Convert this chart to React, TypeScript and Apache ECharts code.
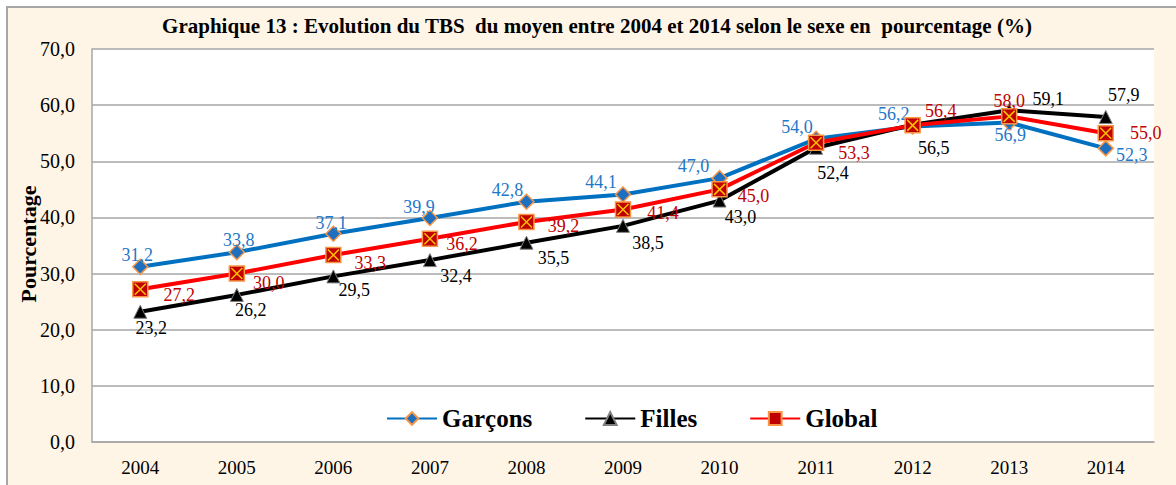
import React, { useEffect, useRef } from "react";
import * as echarts from "echarts";

const years = ["2004", "2005", "2006", "2007", "2008", "2009", "2010", "2011", "2012", "2013", "2014"];
const garcons = [31.2, 33.8, 37.1, 39.9, 42.8, 44.1, 47.0, 54.0, 56.2, 56.9, 52.3];
const filles = [23.2, 26.2, 29.5, 32.4, 35.5, 38.5, 43.0, 52.4, 56.5, 59.1, 57.9];
const global = [27.2, 30.0, 33.3, 36.2, 39.2, 41.4, 45.0, 53.3, 56.4, 58.0, 55.0];

const titleText = "Graphique 13 : Evolution du TBS  du moyen entre 2004 et 2014 selon le sexe en  pourcentage (%)";

// label offsets (style only)
const garconsOff = [[-3, -12], [2, -12], [-2, -11], [-11, -11], [-19, -12], [-22, -12], [-26, -12], [-19, -12], [-19, -12], [1, 12], [26, 7]];
const fillesOff = [[11, 16], [14, 15], [21, 14], [26, 16], [27, 15], [25, 17], [21, 16], [17, 25], [21, 23], [39, -11], [18, -22]];
const globalOff = [[39, 6], [32, 9], [37, 8], [32, 5], [37, 4], [40, 3], [34, 7], [38, 10], [28, -14], [0, -15], [40, 0]];

const FONT = "'Liberation Serif', 'Times New Roman', serif";
const fmt = (v: number) => v.toFixed(1).replace(".", ",");

function withLabels(vals: number[], offs: number[][], color: string) {
  return vals.map((v, i) => ({
    value: v,
    label: {
      show: true,
      position: "inside",
      offset: offs[i],
      formatter: () => fmt(v),
      color,
      fontSize: 18,
      fontFamily: FONT,
    },
  }));
}

export default function App() {
  const ref = useRef<HTMLDivElement>(null);
  useEffect(() => {
    if (!ref.current) return;
    const chart = echarts.init(ref.current, null, { renderer: "svg" });
    chart.setOption({
      animation: false,
      backgroundColor: "transparent",
      grid: { left: 84, top: 41, width: 1062, height: 393, show: true, backgroundColor: "#ffffff", borderWidth: 0 },
      graphic: [
        {
          type: "text",
          x: 589,
          y: 18,
          style: { text: titleText, fontSize: 21, fontWeight: "bold", fontFamily: FONT, fill: "#000", textAlign: "center", textVerticalAlign: "middle" },
        },
        {
          type: "text",
          x: 20,
          y: 236,
          rotation: Math.PI / 2,
          style: { text: "Pourcentage", fontSize: 22, fontWeight: "bold", fontFamily: FONT, fill: "#000", textAlign: "center", textVerticalAlign: "middle" },
        },
      ],
      legend: {
        data: ["Garçons", "Filles", "Global"],
        left: 373,
        top: 393,
        itemWidth: 50,
        itemHeight: 16,
        itemGap: 52,
        textStyle: { fontSize: 25, fontWeight: "bold", fontFamily: FONT, color: "#000" },
      },
      xAxis: {
        type: "category",
        data: years,
        boundaryGap: true,
        axisLine: { show: true, lineStyle: { color: "#A6A6A6", width: 1.5 } },
        axisTick: { show: false },
        axisLabel: { color: "#000", fontSize: 19, fontFamily: FONT, margin: 16 },
      },
      yAxis: {
        type: "value",
        min: 0,
        max: 70,
        interval: 10,
        axisLine: { show: true, lineStyle: { color: "#A6A6A6", width: 1.5 } },
        axisTick: { show: false },
        splitLine: { lineStyle: { color: "#A6A6A6", width: 1.5 } },
        axisLabel: { color: "#000", fontSize: 20, fontFamily: FONT, margin: 17, formatter: (v: number) => fmt(v) },
      },
      series: [
        {
          name: "Garçons",
          type: "line",
          data: withLabels(garcons, garconsOff, "#1F77C8"),
          symbol: "diamond",
          symbolSize: 15,
          lineStyle: { color: "#0070C0", width: 4 },
          itemStyle: { color: "#1F6FC0", borderColor: "#F79646", borderWidth: 1.5 },
          z: 2,
        },
        {
          name: "Filles",
          type: "line",
          data: withLabels(filles, fillesOff, "#000"),
          symbol: "triangle",
          symbolSize: 13,
          lineStyle: { color: "#000", width: 4 },
          itemStyle: { color: "#000", borderColor: "#7F7F7F", borderWidth: 1 },
          z: 3,
        },
        {
          name: "Global",
          type: "line",
          data: withLabels(global, globalOff, "#C00000"),
          symbol: "rect",
          symbolSize: 15,
          lineStyle: { color: "#FF0000", width: 4 },
          itemStyle: { color: "#C00000", borderColor: "#F79646", borderWidth: 1.5 },
          z: 4,
        },
        {
          name: "GlobalX",
          type: "line",
          data: global,
          symbol: "path://M0,0 L10,10 M10,0 L0,10",
          symbolSize: 11,
          lineStyle: { width: 0, opacity: 0 },
          itemStyle: { color: "none", borderColor: "#FFC000", borderWidth: 1.5 },
          label: { show: false },
          silent: true,
          z: 5,
        },
      ],
    });
    return () => chart.dispose();
  }, []);
  return (
    <div style={{ position: "absolute", left: 0, top: 0, width: 1176, height: 485, overflow: "hidden", background: "#fff" }}>
      <div style={{ position: "absolute", left: 6, top: 6, width: 1200, height: 500, border: "2px solid #A6A6A6", background: "#FEF5E7" }}>
        <div ref={ref} style={{ width: 1168, height: 477 }} />
      </div>
    </div>
  );
}
